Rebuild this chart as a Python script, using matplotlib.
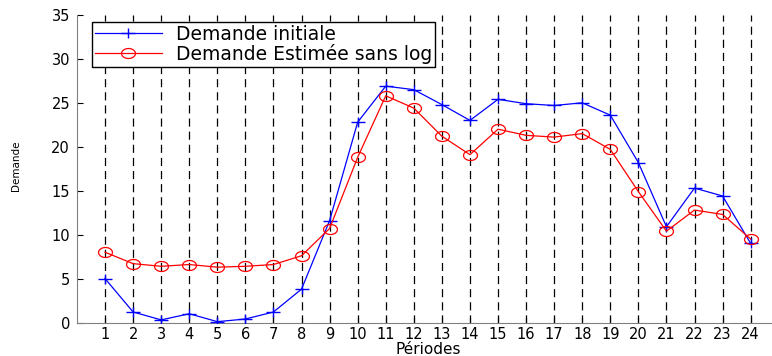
import numpy as np
import matplotlib.pyplot as plt
from matplotlib.path import Path

plt.rcParams['font.family'] = ['DejaVu Sans']

# Periods and demand series
periodes = np.arange(1, 25)
demande_initiale = [5.0, 1.2, 0.3, 1.0, 0.1, 0.4, 1.2, 3.8, 11.6, 22.8, 26.9, 26.5,
                    24.8, 23.0, 25.4, 24.9, 24.7, 25.0, 23.6, 18.2, 10.9, 15.3, 14.4, 9.0]
demande_estimee = [8.0, 6.7, 6.4, 6.6, 6.3, 6.4, 6.6, 7.6, 10.7, 18.8, 25.8, 24.4,
                   21.2, 19.1, 22.0, 21.3, 21.1, 21.5, 19.7, 14.9, 10.4, 12.8, 12.3, 9.5]

# flattened marker shapes (wider than tall)
k = 0.72
theta = np.linspace(0, 2 * np.pi, 49)
ellipse = Path(np.column_stack([np.cos(theta), k * np.sin(theta)]))
plus = Path([(-1, 0), (1, 0), (0, -k), (0, k)],
            [Path.MOVETO, Path.LINETO, Path.MOVETO, Path.LINETO])

fig = plt.figure(figsize=(7.72, 3.56), dpi=100)
ax = fig.add_axes([0.0997, 0.094, 0.909, 0.864])

for p in periodes:
    ax.axvline(p, color='black', linewidth=0.9, linestyle=(0, (6.5, 4)), zorder=1)

ax.plot(periodes, demande_initiale, color='blue', marker=plus, markersize=10,
        markeredgewidth=1.0, linewidth=0.9, label='Demande initiale', zorder=3)
ax.plot(periodes, demande_estimee, color='red', marker=ellipse, markersize=10,
        markerfacecolor='none', markeredgewidth=0.9, linewidth=0.9,
        label='Demande Estimée sans log', zorder=3)

ax.set_xlim(0, 25)
ax.set_ylim(0, 35)
ax.set_xticks(periodes)
ax.set_yticks(np.arange(0, 36, 5))
ax.tick_params(direction='in', length=4, labelsize=10.5, colors='black')
ax.tick_params(axis='x', pad=3)
ax.tick_params(axis='y', pad=5)
for side in ['top', 'right']:
    ax.spines[side].set_visible(False)
for side in ['left', 'bottom']:
    ax.spines[side].set_color('#808080')

ax.set_xlabel('Périodes', fontsize=11, va='center')
ax.xaxis.set_label_coords(0.5, -0.087)
ax.set_ylabel('Demande', fontsize=7.5, va='center')
ax.yaxis.set_label_coords(-0.087, 0.509)

leg = ax.legend(loc='upper left', bbox_to_anchor=(0.021, 0.977), fontsize=13.5,
                fancybox=False, framealpha=1, edgecolor='black',
                borderpad=0.15, borderaxespad=0, handlelength=3.6,
                handletextpad=0.75, labelspacing=0.0)
leg.get_frame().set_linewidth(1.0)

fig.savefig('out.png', dpi=100)
